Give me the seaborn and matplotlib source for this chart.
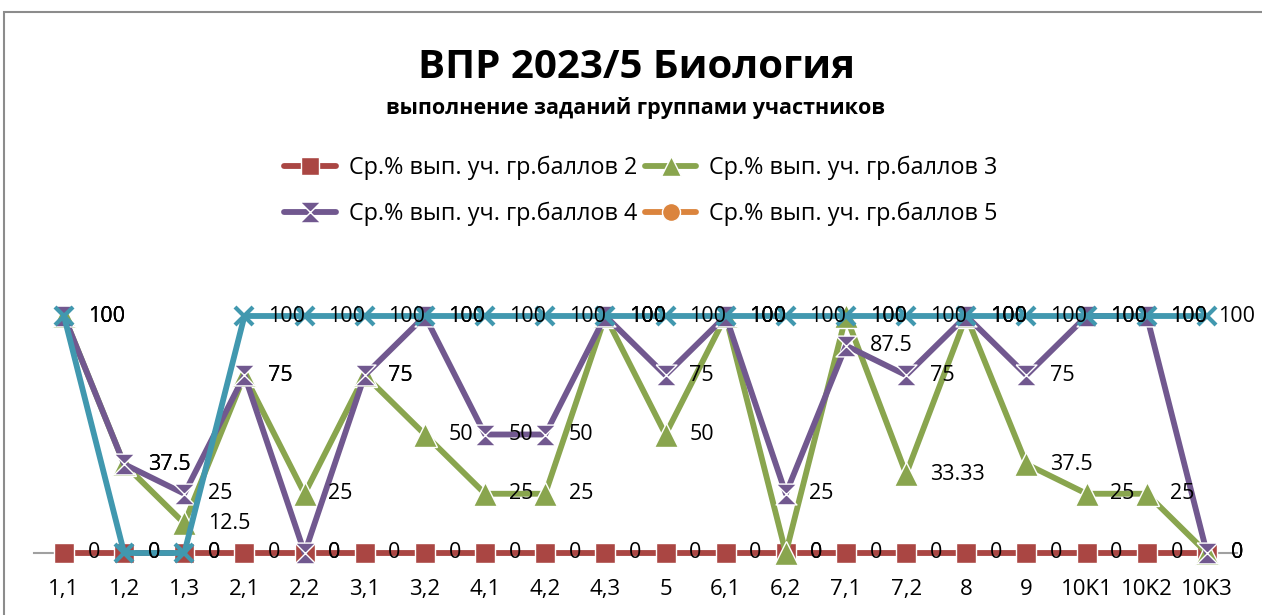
import matplotlib
matplotlib.use("Agg")
import matplotlib.pyplot as plt
import matplotlib.patches as mpatches
from matplotlib.lines import Line2D
import seaborn as sns
import numpy as np

sns.set_style("white")
plt.rcParams["font.family"] = ["Open Sans", "DejaVu Sans"]
plt.rcParams["text.color"] = "black"
plt.rcParams["xtick.color"] = "black"

# Data
tasks = ["1,1", "1,2", "1,3", "2,1", "2,2", "3,1", "3,2", "4,1", "4,2", "4,3",
         "5", "6,1", "6,2", "7,1", "7,2", "8", "9", "10K1", "10K2", "10K3"]
grade2 = [0, 0, 0, 0, 0, 0, 0, 0, 0, 0, 0, 0, 0, 0, 0, 0, 0, 0, 0, 0]
grade3 = [100, 37.5, 12.5, 75, 25, 75, 50, 25, 25, 100,
          50, 100, 0, 100, 33.33, 100, 37.5, 25, 25, 0]
grade4 = [100, 37.5, 25, 75, 0, 75, 100, 50, 50, 100,
          75, 100, 25, 87.5, 75, 100, 75, 100, 100, 0]
grade5 = [100, 0, 0, 100, 100, 100, 100, 100, 100, 100,
          100, 100, 100, 100, 100, 100, 100, 100, 100, 100]

names = ["Ср.% вып. уч. гр.баллов 2", "Ср.% вып. уч. гр.баллов 3",
         "Ср.% вып. уч. гр.баллов 4", "Ср.% вып. уч. гр.баллов 5"]

red = "#AA4643"
green = "#89A54E"
purple = "#71588F"
teal = "#4198AF"
orange = "#DB843D"

hourglass = [(-1, 1), (1, 1), (0, 0), (1, -1), (-1, -1), (0, 0), (-1, 1)]

W, H = 1262, 615
fig = plt.figure(figsize=(W / 100, H / 100), dpi=100)
ax = fig.add_axes([33.9 / W, 62 / H, (1237 - 33.9) / W, 237 / H])

styles = [
    (grade2, red, "s", 14, 1),
    (grade3, green, "^", 17, 1),
    (grade4, purple, hourglass, 15, 1),
    (grade5, teal, "x", 13, 3),
]
for vals, col, mk, ms, mew in styles:
    sns.lineplot(x=tasks, y=vals, ax=ax, sort=False, estimator=None,
                 color=col, linewidth=4.2, marker=mk, markersize=ms,
                 markeredgewidth=mew, markeredgecolor=col if mk == "x" else "white",
                 clip_on=False)

# data labels to the right of each point; the last wide label is pulled in
# so it stays inside the chart (as the spreadsheet does)
last = len(tasks) - 1
for vals in [grade2, grade3, grade4, grade5]:
    for i, v in enumerate(vals):
        txt = f"{v:g}"
        off = 8 if (i == last and len(txt) > 2) else 17
        ax.annotate(txt, (i, v), xytext=(off, 0), textcoords="offset points",
                    ha="left", va="center", fontsize=15.5, color="black",
                    annotation_clip=False, zorder=10)

ax.set_xlim(-0.5, len(tasks) - 0.5)
ax.set_ylim(0, 100)
ax.set_yticks([])
for s in ["top", "right", "left"]:
    ax.spines[s].set_visible(False)
ax.spines["bottom"].set_color("#A0A0A0")
ax.spines["bottom"].set_linewidth(1.5)
ax.spines["bottom"].set_zorder(0)
ax.tick_params(axis="x", length=0, pad=19, labelsize=16, labelcolor="black")
ax.set_xlabel("")
ax.set_ylabel("")
ax.set_facecolor("none")

fig.text(636 / W, 1 - 68 / H, "ВПР 2023/5 Биология", ha="center", va="center",
         fontsize=29, fontweight="bold", color="black")
fig.text(635 / W, 1 - 108 / H, "выполнение заданий группами участников",
         ha="center", va="center", fontsize=15.5, fontweight="bold", color="black")

handles = [
    Line2D([], [], color=red, lw=4.2, marker="s", ms=13, mec="white", mew=1),
    Line2D([], [], color=green, lw=4.2, marker="^", ms=15, mec="white", mew=1),
    Line2D([], [], color=purple, lw=4.2, marker=hourglass, ms=15, mec="white", mew=1),
    Line2D([], [], color=orange, lw=4.2, marker="o", ms=13, mec="white", mew=1),
]
# row-major order: 2, 3 / 4, 5
order = [0, 2, 1, 3]
fig.legend([handles[k] for k in order], [names[k] for k in order], ncol=2,
           loc="center", bbox_to_anchor=(641 / W, 1 - 191 / H),
           frameon=False, fontsize=16.8, handlelength=2.2, handletextpad=0.55,
           columnspacing=0.35, labelspacing=0.95)

fig.add_artist(mpatches.Rectangle((4 / W, -0.1), 1.2, (H - 12) / H + 0.1,
                                  transform=fig.transFigure, fill=False,
                                  edgecolor="#8C8C8C", lw=1.5))

fig.savefig("out.png", dpi=100)
